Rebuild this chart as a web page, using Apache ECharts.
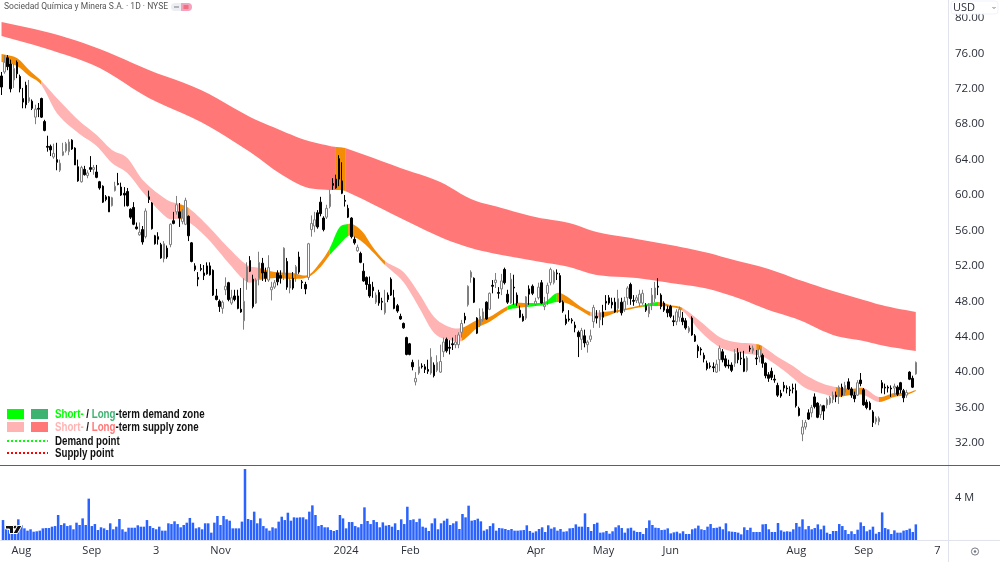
<!DOCTYPE html>
<html>
<head>
<meta charset="utf-8">
<title>SQM daily chart</title>
<style>html,body{margin:0;padding:0;background:#fff}#chart{width:1000px;height:562px}</style>
<script src="https://cdn.jsdelivr.net/npm/echarts@6/dist/echarts.min.js"></script>
</head>
<body>
<div id="chart"></div>
<script>
// Daily sessions: open, close, low, high (USD)
const opens = [
73.45,73.9,75.5,74.8,73.0,75.0,73.4,70.9,72.4,70.6,
70.6,68.8,69.8,70.9,68.3,65.5,65.5,64.3,64.0,62.8,
64.5,65.0,64.9,66.2,65.3,63.2,61.5,62.9,62.2,63.1,
62.9,62.6,61.5,61.0,59.8,59.8,58.8,60.5,61.3,60.9,
60.2,60.4,58.4,58.6,56.4,55.5,56.1,55.3,59.8,59.1,
55.4,55.3,54.4,52.8,54.0,54.4,57.1,58.1,58.1,57.0,
56.7,57.6,54.6,52.0,50.7,51.7,51.2,52.0,52.0,51.5,
48.6,48.0,47.2,49.3,50.1,47.8,48.6,48.6,47.1,45.8,
50.2,52.6,50.5,47.8,50.6,52.3,51.3,50.4,49.3,49.6,
51.2,50.9,51.0,52.5,49.5,50.6,51.0,53.0,50.2,49.9,
50.7,56.1,56.5,58.0,59.2,57.4,57.5,58.7,61.3,61.8,
64.1,61.6,59.4,58.5,57.4,55.0,53.7,53.4,51.4,50.7,
49.9,49.6,47.9,49.0,48.0,46.7,48.7,50.5,48.4,47.5,
46.3,45.5,43.9,43.2,41.1,38.9,39.9,40.7,40.6,40.3,
39.9,40.8,40.2,40.0,42.3,43.7,42.8,43.2,43.1,43.1,
44.5,46.3,47.6,50.7,50.6,46.1,45.3,45.9,47.9,47.1,
49.8,50.1,49.0,49.4,51.6,48.8,47.8,49.6,48.7,47.0,
46.3,46.1,49.4,49.7,47.7,48.4,50.1,47.4,48.9,50.1,
50.1,51.2,50.9,47.9,46.0,46.0,45.9,45.3,44.5,43.7,
44.1,43.1,43.7,45.7,46.3,45.9,46.8,48.0,48.4,47.9,
47.9,47.2,47.9,47.1,48.4,49.9,48.1,48.1,47.8,47.8,
47.5,46.6,47.6,48.3,49.7,48.7,47.8,47.1,47.4,45.8,
45.7,46.2,46.1,45.8,44.6,46.1,44.1,42.9,42.6,41.9,
41.0,40.7,40.6,40.0,41.4,42.3,41.5,40.8,40.8,41.0,
42.2,41.6,41.5,40.2,42.7,42.4,41.6,41.7,41.9,41.0,
39.7,40.1,39.2,38.5,37.6,38.5,38.2,38.0,38.2,37.9,
35.9,33.0,33.8,35.4,35.4,37.2,36.5,35.2,36.2,36.3,
36.5,36.9,37.4,37.3,38.3,37.7,38.9,38.1,37.4,37.4,
39.1,38.0,36.6,36.5,35.5,34.4,34.4,38.8,38.3,38.3,
38.2,38.2,38.3,38.8,37.9,37.4,40.0,39.3,39.8];
const closes = [
72.2,75.0,74.5,72.0,74.3,73.7,72.0,70.5,70.2,71.0,
69.8,69.7,69.7,68.8,67.3,65.4,65.1,64.7,63.7,63.6,
64.9,65.8,66.0,65.2,63.4,61.6,63.1,62.3,62.5,62.9,
63.1,62.0,60.8,59.2,59.5,58.1,59.7,61.0,61.2,60.0,
60.0,58.8,57.5,56.7,56.2,55.8,54.7,58.2,59.5,56.2,
54.5,55.0,52.9,54.5,53.0,56.7,56.8,58.9,57.4,57.4,
59.4,55.4,52.5,51.6,50.5,51.6,50.9,51.1,51.0,48.7,
48.2,47.4,47.9,49.7,48.2,48.4,48.2,47.2,46.8,48.0,
51.9,51.4,47.4,50.4,52.4,51.2,50.6,51.8,49.6,50.1,
50.2,50.6,54.0,49.6,50.4,49.5,51.9,51.3,50.1,49.4,
54.5,56.8,57.2,56.4,57.9,56.1,58.5,60.1,61.1,60.8,
61.8,60.2,59.3,57.5,55.3,54.6,54.1,52.4,50.3,49.9,
48.6,49.2,48.7,47.8,47.9,47.8,48.2,48.7,47.2,46.9,
46.0,45.0,42.0,42.0,40.6,39.3,40.6,40.6,40.3,40.1,
41.7,39.6,41.1,41.2,43.4,42.4,42.7,43.1,43.4,44.2,
45.5,45.9,49.7,51.3,47.9,44.4,46.3,46.8,46.0,48.9,
49.7,50.4,48.9,50.3,50.1,47.9,50.5,49.5,47.8,46.2,
45.8,48.5,48.8,48.9,48.0,49.6,47.8,47.6,49.8,51.6,
51.3,51.1,47.9,46.9,45.5,45.9,45.8,45.0,44.0,44.7,
43.3,43.4,44.1,47.3,46.1,46.7,46.2,47.8,47.8,47.6,
46.8,48.3,46.7,48.0,49.5,48.3,48.0,48.4,48.8,48.9,
47.0,47.4,48.7,49.5,49.6,47.4,47.0,46.7,46.3,45.7,
46.8,47.1,45.7,45.0,45.0,44.2,43.5,42.4,42.5,41.5,
40.4,40.6,40.5,40.9,42.7,41.4,40.7,40.7,40.2,42.1,
41.4,41.5,40.1,41.6,42.6,42.7,41.5,42.6,41.0,39.6,
39.3,39.4,39.1,37.4,37.3,38.2,38.1,37.9,38.1,36.2,
35.1,33.8,34.3,34.7,36.0,36.1,34.9,36.2,35.6,36.9,
37.1,37.4,37.2,38.3,37.4,38.5,38.1,37.4,37.0,38.8,
38.7,36.3,36.0,35.8,34.3,34.8,34.8,38.2,38.2,38.2,
38.1,38.4,37.5,38.0,37.1,37.7,39.2,38.3,41.1];
const lows = [
71.3,73.7,74.1,71.6,72.1,73.2,71.6,69.8,69.8,70.4,
69.6,68.0,68.8,68.7,67.2,64.9,64.4,64.1,62.8,62.6,
64.4,64.8,64.5,65.1,63.4,61.5,61.4,62.2,61.9,62.6,
62.3,61.9,60.6,59.1,59.3,58.1,58.7,60.4,61.1,59.9,
58.7,58.7,57.3,56.6,56.1,55.4,54.4,55.1,59.1,56.1,
54.4,54.4,52.8,52.4,52.8,54.1,56.7,57.8,56.4,56.7,
56.6,54.8,52.4,51.4,49.7,51.4,50.4,51.0,50.9,48.6,
48.1,46.8,46.6,48.7,48.0,47.6,48.0,47.1,46.7,44.8,
49.3,51.3,47.2,47.7,49.8,50.3,50.2,50.2,48.1,49.4,
49.8,50.0,50.4,49.3,48.9,49.3,50.2,51.1,49.4,48.8,
50.4,55.3,55.8,56.2,57.6,55.9,57.3,58.5,60.6,60.7,
61.0,60.1,58.7,57.4,55.1,54.4,53.6,52.3,50.2,49.3,
48.4,48.4,47.7,47.5,47.0,46.5,47.9,48.6,47.1,46.7,
45.9,44.9,41.9,41.9,40.2,38.5,39.7,40.4,39.9,39.8,
39.7,39.4,40.0,39.9,41.7,42.2,42.0,42.5,42.7,42.7,
43.9,45.5,47.4,50.1,47.8,44.3,45.1,45.7,45.9,47.0,
48.9,49.5,48.3,48.7,49.9,47.7,47.7,47.6,47.5,46.1,
45.7,45.9,47.6,48.7,47.5,48.2,47.7,47.0,47.6,49.8,
49.9,50.4,47.8,46.7,45.3,45.7,45.5,44.5,41.7,42.5,
42.8,42.2,43.4,45.0,45.5,45.0,45.3,47.0,47.6,47.2,
46.7,46.7,46.4,46.8,47.6,47.6,47.5,47.8,47.4,47.6,
46.8,46.2,47.0,47.9,48.7,47.1,46.8,46.2,46.1,45.2,
45.3,45.7,45.3,44.8,44.4,44.1,43.4,41.6,41.9,41.1,
40.2,40.4,40.0,39.9,40.1,41.1,40.5,40.4,40.0,40.6,
41.0,40.8,40.0,40.0,42.3,42.1,40.8,41.1,40.5,39.3,
38.9,39.1,38.8,37.2,37.1,37.8,37.6,37.3,37.6,36.0,
35.0,32.2,33.5,34.6,34.9,35.9,34.8,34.8,34.6,35.9,
36.3,36.5,36.6,36.4,37.2,37.4,38.0,37.1,36.6,37.3,
38.4,36.2,35.8,35.7,33.8,34.1,34.0,37.6,37.5,37.7,
37.2,37.4,37.3,37.6,36.6,37.1,39.1,38.2,39.7];
const highs = [
73.9,75.8,75.8,75.3,74.8,75.2,73.6,72.1,72.8,73.0,
70.8,70.2,70.4,71.0,68.5,66.7,65.7,65.8,65.9,64.0,
65.9,66.0,66.3,66.3,65.4,64.0,63.3,63.3,62.8,64.4,
63.4,63.4,61.6,61.1,60.0,59.9,59.8,61.5,62.5,61.4,
60.9,60.8,58.5,59.2,56.9,56.9,56.5,58.5,60.5,59.2,
55.5,55.8,54.6,54.8,54.3,56.8,58.1,59.9,59.1,58.4,
59.7,57.7,54.7,52.3,51.3,52.2,52.1,52.4,52.4,51.6,
49.4,48.2,48.1,50.7,50.2,49.3,49.3,49.3,49.5,50.6,
52.4,53.1,51.0,50.6,53.6,52.9,51.8,53.2,50.2,50.4,
51.5,51.5,54.1,52.9,50.7,51.3,52.1,53.6,50.4,50.2,
54.6,57.7,58.1,58.3,59.8,57.6,58.9,60.6,61.9,62.3,
64.5,63.7,60.0,58.9,57.5,55.3,54.4,53.6,52.3,50.8,
50.8,50.2,49.0,49.3,48.4,49.3,49.0,50.7,49.3,47.7,
46.6,45.6,44.0,43.3,41.4,40.0,41.4,41.0,40.9,41.4,
42.7,41.1,41.9,43.1,43.9,43.9,43.6,43.9,44.2,44.5,
45.9,46.7,49.8,51.5,50.7,46.2,47.2,47.2,48.0,49.0,
50.4,51.2,49.6,51.1,51.8,49.3,51.2,51.0,49.0,47.5,
46.6,48.6,49.8,49.9,48.4,50.1,50.4,48.5,50.1,51.8,
51.5,51.6,51.2,48.1,46.5,47.0,46.1,45.7,44.7,45.0,
44.8,43.6,44.8,47.6,47.0,47.0,47.6,48.7,48.7,48.4,
48.4,49.3,48.4,48.5,49.7,50.1,48.7,48.7,49.3,49.3,
47.8,47.8,49.5,50.2,50.6,48.9,48.0,47.5,47.6,46.4,
47.1,47.4,46.8,46.1,45.2,46.3,44.3,43.1,42.8,42.2,
41.3,41.1,41.1,41.4,43.0,42.6,41.9,41.4,41.1,42.6,
42.7,42.3,42.4,41.8,43.0,43.0,42.5,43.0,42.1,41.1,
40.0,40.5,39.7,38.8,38.0,38.9,38.5,38.4,38.7,38.7,
36.1,34.6,34.6,35.8,36.3,37.6,36.6,36.4,36.3,37.1,
37.3,37.8,37.8,38.5,38.7,38.9,39.3,38.3,37.8,39.1,
39.9,38.2,36.9,36.7,35.7,35.0,35.0,39.1,38.7,38.5,
38.5,38.7,38.5,38.9,38.1,38.0,40.1,39.6,41.2];

// Daily volume, millions of shares
const volumes = [
1.9,1.27,.95,.63,.63,1.97,1.43,1.11,.89,1.02,
.79,.83,.89,1.11,1.14,1.14,1.27,1.33,2.38,1.43,
1.59,1.33,1.4,1.02,1.65,1.43,2.06,1.43,3.94,1.33,
1.52,.95,1.21,1.11,.95,1.59,1.02,1.27,2.0,1.02,
.79,1.17,1.17,1.17,1.4,1.27,1.27,1.9,1.33,1.14,
1.02,1.27,.89,.89,1.59,1.52,1.78,1.52,1.21,1.43,
1.65,2.1,1.65,1.11,1.21,1.02,1.59,1.59,.7,1.65,
2.29,1.43,2.29,1.97,1.84,1.11,1.11,1.11,1.75,6.76,
2.0,1.9,2.7,1.59,2.06,1.33,1.11,.89,1.21,1.11,
1.75,2.22,1.9,2.6,1.84,2.16,2.13,2.16,2.16,1.97,
2.7,3.3,2.38,1.33,1.43,1.21,1.21,
.95,.86,.95,2.38,2.06,1.11,1.71,1.71,1.33,1.21,
1.52,3.11,1.81,1.52,1.9,1.71,1.21,1.68,1.37,1.43,
1.27,1.59,.95,1.97,1.52,3.17,1.9,1.97,1.71,2.03,
1.27,1.17,.86,1.59,2.06,1.02,1.59,1.84,2.03,1.43,
1.59,1.78,1.05,2.48,2.16,3.27,1.84,1.9,2.03,1.78,
.89,1.02,1.33,1.59,.89,1.14,1.11,1.05,.95,1.05,
.89,.89,.92,.95,1.4,.86,.7,.83,1.05,1.21,
.76,1.4,1.08,1.21,.89,1.05,.79,.83,1.11,1.14,
1.49,1.27,1.27,2.54,1.24,.86,1.52,1.65,.7,.73,
.86,.6,.83,1.21,1.4,1.14,.7,1.11,1.17,.89,
.76,.76,.57,1.14,1.87,1.43,1.17,1.14,
.95,.98,1.11,.63,.73,.79,.63,.83,.57,.57,
1.02,1.11,1.37,1.02,.95,1.27,1.52,1.14,1.17,1.27,
1.02,1.59,.83,.79,.76,.7,.54,1.21,.95,1.17,
.76,.76,.76,1.49,1.52,1.02,.76,.76,1.62,.92,
.79,.83,.79,1.02,1.62,1.27,1.97,1.02,1.33,1.02,
1.14,1.49,1.02,1.37,.7,.57,.86,.86,1.52,1.33,
.95,.57,.83,.57,.98,1.68,1.33,.83,.98,1.27,
.6,.76,2.63,1.14,1.02,.57,.92,.7,.7,.89,
.95,1.08,.76,1.49];

// Long-term supply band, sampled at session numbers
const longDays = [0,16,32,48,65,81,90,99,107,109,112,130,143,153,163,174,185,194,207,218,229,240,250,260,271,281,288,298];
const longTop = [79.55,78.30,76.50,74.12,71.87,68.82,67.46,66.22,65.54,65.43,65.31,63.06,61.47,59.55,58.54,57.52,56.84,55.83,55.04,54.36,53.57,52.55,51.65,50.41,49.16,48.15,47.47,46.79];
const longBottom = [77.96,76.38,74.35,70.96,68.25,64.86,62.60,60.91,60.57,60.57,60.46,57.41,55.26,54.02,53.23,52.55,51.87,50.97,50.63,50.07,49.50,48.37,47.02,45.89,44.20,43.52,42.95,42.39];

// Short-term band, sampled at session numbers
const shortDays = [0,5,9,13,18,25,31,36,41,46,54,58,61,67,74,80,84,89,95,100,104,107,110,113,115,118,121,125,131,136,141,146,150,155,159,165,168,171,177,181,184,188,192,196,201,209,214,218,222,228,234,239,246,248,253,258,262,268,272,277,281,286,291,295,298];
const shortTop = [75.93,75.48,74.12,72.88,70.96,68.48,66.78,65.09,64.19,61.70,59.44,58.99,58.54,56.62,54.02,52.10,51.76,51.31,51.20,50.97,52.44,54.02,56.28,56.73,56.62,55.71,54.13,52.55,51.31,48.94,46.23,45.10,44.99,45.89,46.23,47.47,47.81,47.81,47.92,48.94,48.60,47.58,46.79,46.79,47.02,47.58,47.92,47.58,47.24,45.66,43.97,43.40,43.18,42.95,41.71,40.69,39.68,38.66,38.32,38.10,38.21,37.19,37.65,37.65,37.98];
const shortBottom = [75.03,74.58,73.45,72.43,69.27,67.01,65.54,63.62,62.49,60.35,57.41,57.30,56.96,55.15,52.33,50.18,50.41,50.63,50.52,50.75,51.87,53.23,54.36,55.38,55.26,54.59,53.57,52.10,50.18,47.36,44.42,43.63,43.52,44.99,45.66,47.02,47.24,47.36,47.58,47.92,47.81,47.13,46.34,46.23,46.79,47.36,47.47,47.36,46.91,44.53,42.84,42.28,41.94,41.82,40.69,39.34,38.21,37.53,37.19,37.42,37.42,36.63,37.19,37.42,37.87];

// Zone runs along each band: first session, last session, state
const longZoneStart = [0,109,112];
const longZoneEnd = [109,112,298];
const longZoneState = ['longSupply','mixed','longSupply'];
const shortZoneStart = [0,13,58,61,84,107,113,125,150,165,168,171,181,192,196,209,214,222,246,248,272,281,286];
const shortZoneEnd = [13,58,61,84,107,113,125,150,165,168,171,181,192,196,209,214,222,246,248,272,281,286,298];
const shortZoneState = ['mixed','shortSupply','mixed','shortSupply','mixed','shortDemand','mixed','shortSupply','mixed','shortDemand','mixed','shortDemand','mixed','shortSupply','mixed','shortDemand','mixed','shortSupply','mixed','shortSupply','mixed','shortSupply','mixed'];

// Time axis labels by session number, with empty space to the right of the last bar
const sessionSlots = 309;
const timeLabelSlots = [6,29,50,71,112,133,174,196,218,259,281,305];
const timeLabels = ['Aug','Sep','3','Nov','2024','Feb','Apr','May','Jun','Aug','Sep','7'];
const priceTicks = [32,36,40,44,48,52,56,60,64,68,72,76,80];
const volumeTicks = [4];

const zoneColors = {
  longSupply: '#ff7777',
  shortSupply: '#ffb3b3',
  shortDemand: '#00ff00',
  longDemand: '#3cb371',
  mixed: '#f48c06'
};
const uiFont = 'Open Sans';
const keyFont = 'Liberation Sans';
const inkColor = '#2a2e39';
const hairline = '#e0e3eb';

const slots = Array.from({length: sessionSlots}, (_, i) => {
  const at = timeLabelSlots.indexOf(i);
  return at >= 0 ? timeLabels[at] : '';
});
const candles = opens.map((o, i) => [o, closes[i], lows[i], highs[i]]);

// Curved edge through projected band samples from position a to position b
function curvePoints(pts, a, b) {
  const slope = j => {
    const p = pts[Math.max(j - 1, 0)], n = pts[Math.min(j + 1, pts.length - 1)];
    return (n[1] - p[1]) / (n[0] - p[0]);
  };
  const out = [pts[a]];
  for (let j = a; j < b; j++) {
    const dx = pts[j + 1][0] - pts[j][0];
    const m0 = slope(j) * dx, m1 = slope(j + 1) * dx;
    for (let s = 1; s <= 6; s++) {
      const t = s / 6, t2 = t * t, t3 = t2 * t;
      out.push([
        pts[j][0] + dx * t,
        (2 * t3 - 3 * t2 + 1) * pts[j][1] + (t3 - 2 * t2 + t) * m0 + (3 * t2 - 2 * t3) * pts[j + 1][1] + (t3 - t2) * m1
      ]);
    }
  }
  return out;
}

// One filled polygon per zone run, following the band's sampled edges
function bandSeries(days, top, bottom, starts, ends, states) {
  return {
    type: 'custom',
    xAxisIndex: 0,
    yAxisIndex: 0,
    z: 1,
    silent: true,
    data: starts.map((s, i) => [s, i]),
    renderItem(params, api) {
      const k = params.dataIndex;
      const upper = days.map((d, j) => api.coord([d, top[j]]));
      const lower = days.map((d, j) => api.coord([d, bottom[j]]));
      const a = days.indexOf(starts[k]), b = days.indexOf(ends[k]);
      return {
        type: 'polygon',
        shape: {points: curvePoints(upper, a, b).concat(curvePoints(lower, a, b).reverse())},
        style: {fill: zoneColors[states[k]]}
      };
    }
  };
}

const keyStyle = {fontWeight: 'bold', fontSize: 12, fontFamily: keyFont};
const legendRich = {
  sg: {fill: '#00ff00', ...keyStyle},
  lg: {fill: '#3cb371', ...keyStyle},
  sr: {fill: '#ffb3b3', ...keyStyle},
  lr: {fill: '#ff7777', ...keyStyle},
  k: {fill: '#111', ...keyStyle}
};

function swatch(x, y, fill) {
  return {type: 'rect', z: 20, shape: {x, y, width: 17, height: 10}, style: {fill}};
}
function legendText(y, text) {
  return {type: 'text', z: 20, x: 55, y, scaleX: 0.81, style: {text, rich: legendRich, verticalAlign: 'middle', align: 'left', fill: '#111', ...keyStyle}};
}
function rule(x1, y1, x2, y2, stroke, lineWidth) {
  return {type: 'line', z: 15, shape: {x1, y1, x2, y2}, style: {stroke, lineWidth: lineWidth || 1}};
}

const overlay = [
  // Pane separators and price scale edge
  rule(948.5, 0, 948.5, 562, hairline),
  rule(0, 540.5, 1000, 540.5, hairline),
  rule(0, 465.5, 1000, 465.5, '#5d606b'),
  // Symbol caption and its small status pills
  {type: 'text', z: 20, x: 4, y: 7, style: {text: 'Sociedad Química y Minera S.A. · 1D · NYSE', fill: '#555', fontSize: 8.5, fontFamily: 'Roboto', verticalAlign: 'middle'}},
  {type: 'rect', z: 20, shape: {x: 171, y: 3, width: 11, height: 8, r: [4, 0, 0, 4]}, style: {fill: '#eceef2'}},
  {type: 'rect', z: 20, shape: {x: 181, y: 3, width: 11, height: 8, r: [0, 4, 4, 0]}, style: {fill: '#f4a3bd'}},
  {type: 'rect', z: 21, shape: {x: 174, y: 6.5, width: 5, height: 1}, style: {fill: '#787b86'}},
  {type: 'rect', z: 21, shape: {x: 183.5, y: 5.5, width: 5, height: 1}, style: {fill: '#f23645'}},
  {type: 'rect', z: 21, shape: {x: 183.5, y: 7.5, width: 5, height: 1}, style: {fill: '#f23645'}},
  // Currency selector over the top of the price scale
  {type: 'rect', z: 20, shape: {x: 951, y: 1, width: 47, height: 13, r: 3}, style: {fill: '#fff', stroke: '#f0f3fa'}},
  {type: 'text', z: 21, x: 953, y: 7.5, style: {text: 'USD', fill: inkColor, fontSize: 11, fontFamily: uiFont, verticalAlign: 'middle'}},
  {type: 'polyline', z: 21, shape: {points: [[992.5, 7], [994, 8.5], [995.5, 7]]}, style: {stroke: '#787b86', fill: 'none', lineWidth: 1}},
  // Zone and point key
  swatch(7, 409, zoneColors.shortDemand),
  swatch(31, 409, zoneColors.longDemand),
  swatch(7, 422, zoneColors.shortSupply),
  swatch(31, 422, zoneColors.longSupply),
  legendText(414.5, '{sg|Short-}{k| / }{lg|Long}{k|-term demand zone}'),
  legendText(427.5, '{sr|Short-}{k| / }{lr|Long}{k|-term supply zone}'),
  legendText(441.5, '{k|Demand point}'),
  legendText(454, '{k|Supply point}'),
  {type: 'line', z: 20, shape: {x1: 7, y1: 441, x2: 48, y2: 441}, style: {stroke: '#00ff00', lineWidth: 2, lineDash: [2, 2]}},
  {type: 'line', z: 20, shape: {x1: 7, y1: 453, x2: 48, y2: 453}, style: {stroke: '#ff0000', lineWidth: 2, lineDash: [2, 2]}},
  // Small platform mark at the corner of the volume pane
  {type: 'polygon', z: 21, shape: {points: [[5.5, 525.5], [13.5, 525.5], [13.5, 533.5], [9.5, 533.5], [9.5, 529], [5.5, 529]]}, style: {fill: '#111', stroke: '#fff', lineWidth: 1}},
  {type: 'circle', z: 21, shape: {cx: 15.2, cy: 527.2, r: 1.4}, style: {fill: '#111'}},
  {type: 'polygon', z: 21, shape: {points: [[17.5, 525.5], [22, 525.5], [17.5, 533.5], [13, 533.5]]}, style: {fill: '#111', stroke: '#fff', lineWidth: 1}},
  // Scale settings glyph
  {type: 'circle', z: 20, shape: {cx: 975, cy: 551.5, r: 3.6}, style: {fill: 'none', stroke: '#787b86', lineWidth: 1}},
  {type: 'circle', z: 20, shape: {cx: 975, cy: 551.5, r: 1.3}, style: {fill: '#787b86'}}
];

const chart = echarts.init(document.getElementById('chart'), null, {renderer: 'canvas'});
chart.setOption({
  animation: false,
  backgroundColor: '#ffffff',
  grid: [
    {left: 0, right: 52, top: 0, height: 465},
    {left: 0, right: 52, top: 466, height: 74}
  ],
  xAxis: [
    {type: 'category', gridIndex: 0, data: slots, show: false, boundaryGap: true},
    {type: 'category', gridIndex: 1, data: slots, boundaryGap: true,
      axisLine: {show: false}, axisTick: {show: false}, splitLine: {show: false},
      axisLabel: {interval: 0, color: inkColor, fontSize: 11, fontFamily: uiFont, margin: 5}}
  ],
  yAxis: [
    {type: 'value', gridIndex: 0, position: 'right', min: 29.51, max: 82.03, scale: true,
      axisLine: {show: false}, axisTick: {show: false}, splitLine: {show: false},
      axisLabel: {customValues: priceTicks, formatter: v => v.toFixed(2), color: inkColor, fontSize: 11.5, fontFamily: uiFont, margin: 7, align: 'left', padding: [7, 0, 0, 0]}},
    {type: 'value', gridIndex: 1, position: 'right', min: 0, max: 7.05,
      axisLine: {show: false}, axisTick: {show: false}, splitLine: {show: false},
      axisLabel: {customValues: volumeTicks, formatter: v => v + ' M', color: inkColor, fontSize: 11, fontFamily: uiFont, margin: 7, align: 'left', padding: [7, 0, 0, 0]}}
  ],
  series: [
    bandSeries(longDays, longTop, longBottom, longZoneStart, longZoneEnd, longZoneState),
    bandSeries(shortDays, shortTop, shortBottom, shortZoneStart, shortZoneEnd, shortZoneState),
    {type: 'candlestick', xAxisIndex: 0, yAxisIndex: 0, z: 3, data: candles, barWidth: 2, silent: true,
      itemStyle: {color: '#ffffff', color0: '#000000', borderColor: '#808080', borderColor0: '#000000', borderWidth: 1}},
    {type: 'bar', xAxisIndex: 1, yAxisIndex: 1, z: 3, data: volumes, barWidth: 2.5, silent: true,
      itemStyle: {color: '#2962ff'}}
  ],
  graphic: {elements: overlay}
});
</script>
</body>
</html>
